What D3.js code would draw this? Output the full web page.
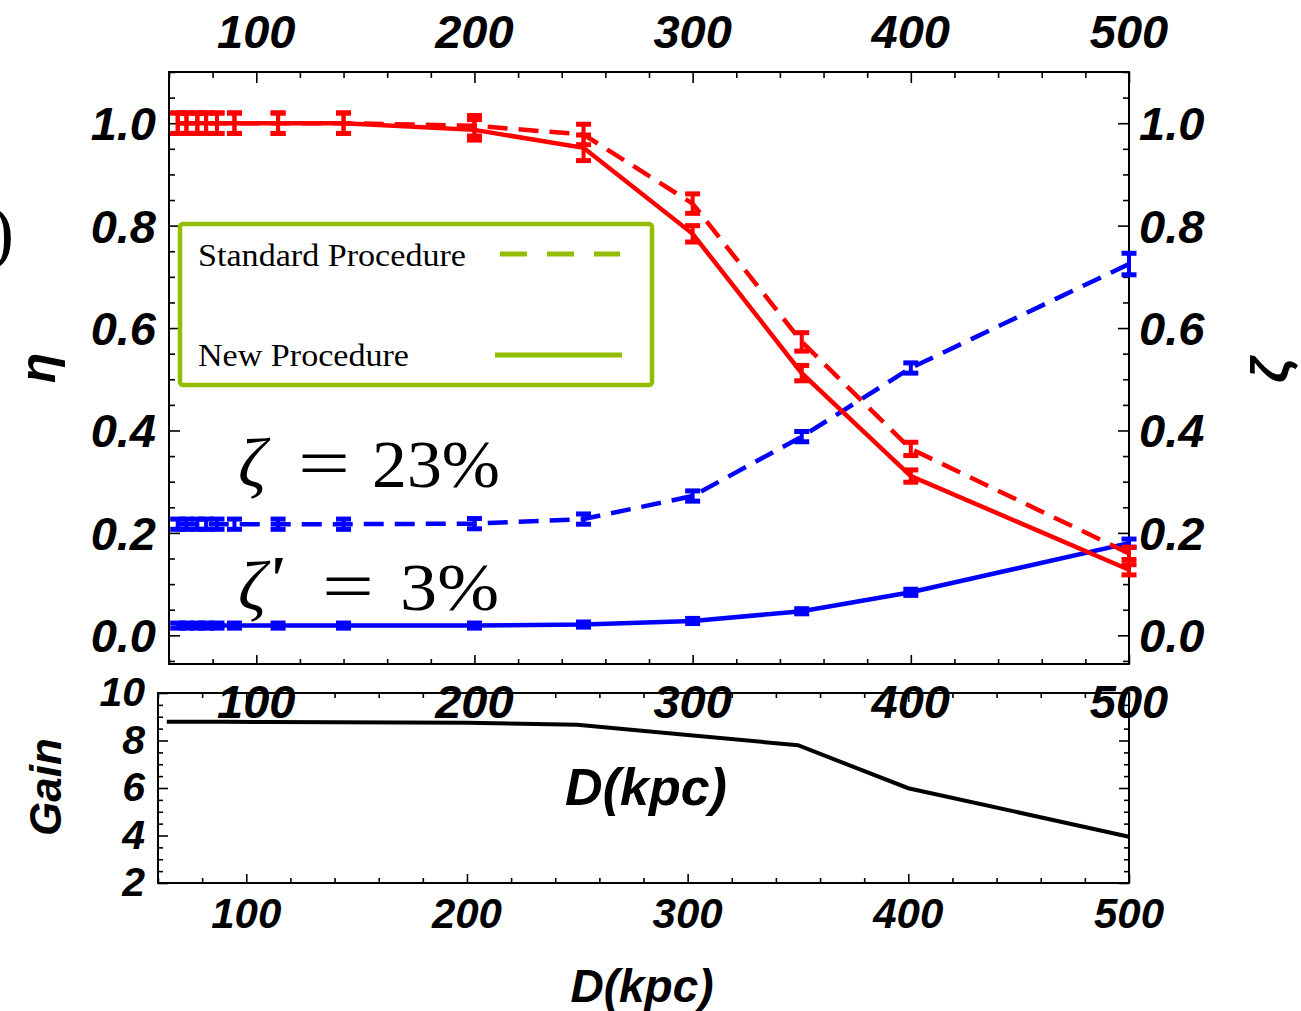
<!DOCTYPE html>
<html><head><meta charset="utf-8">
<script src="https://cdn.jsdelivr.net/npm/d3@7"></script>
<style>body{margin:0;background:#fff;} svg{display:block;}</style>
</head><body>
<svg id="c" width="1301" height="1011"></svg>
<script>
// ---- data ----
const dist      = [64, 68, 73, 77, 82, 90, 110, 140, 200, 250, 300, 350, 400, 500];
const etaStd    = [1, 1, 1, 1, 1, 1, 1, 1, 0.995, 0.978, 0.843, 0.573, 0.364, 0.16];
const etaStdErr = [0.02, 0.02, 0.02, 0.02, 0.02, 0.02, 0.02, 0.02, 0.02, 0.02, 0.019, 0.018, 0.013, 0.012];
const etaNew    = [1, 1, 1, 1, 1, 1, 1, 1, 0.987, 0.952, 0.784, 0.512, 0.311, 0.128];
const etaNewErr = [0.02, 0.02, 0.02, 0.02, 0.02, 0.02, 0.02, 0.02, 0.02, 0.025, 0.016, 0.015, 0.012, 0.01];
const zetaStd    = [0.217, 0.217, 0.217, 0.217, 0.217, 0.217, 0.217, 0.217, 0.218, 0.227, 0.272, 0.388, 0.522, 0.725];
const zetaStdErr = [0.01, 0.01, 0.01, 0.01, 0.01, 0.01, 0.01, 0.01, 0.01, 0.01, 0.01, 0.01, 0.01, 0.021];
const zetaNew    = [0.019, 0.019, 0.019, 0.019, 0.019, 0.019, 0.019, 0.019, 0.019, 0.021, 0.028, 0.047, 0.084, 0.18];
const zetaNewErr = [0.005, 0.005, 0.005, 0.005, 0.005, 0.005, 0.005, 0.005, 0.005, 0.005, 0.005, 0.005, 0.006, 0.008];
const gain       = [8.79, 8.79, 8.79, 8.79, 8.79, 8.79, 8.78, 8.77, 8.75, 8.66, 8.23, 7.8, 5.99, 3.95];
const xTicks = [100, 200, 300, 400, 500];
const yTicksTop = [0.0, 0.2, 0.4, 0.6, 0.8, 1.0];
const yTicksGain = [2, 4, 6, 8, 10];
const legendLabels = ["Standard Procedure", "New Procedure"];

const RED = "#ff0000", BLUE = "#0000ff", GREEN = "#93bd00";
const SANS = "'Liberation Sans', Arial, sans-serif";
const SERIF = "'Liberation Serif', 'Times New Roman', serif";

const svg = d3.select("#c");

// ---- scales ----
const xT = d3.scaleLinear().domain([60, 500]).range([169, 1129]);
const yT = d3.scaleLinear().domain([-0.056, 1.1]).range([664, 72]);
const xB = d3.scaleLinear().domain([60, 500]).range([158, 1129]);
const yB = d3.scaleLinear().domain([2, 10]).range([883, 693]);

function range(a, b, s){ const r=[]; for(let v=a; v<=b+1e-9; v+=s) r.push(+v.toFixed(4)); return r; }
const isMaj = (arr) => v => arr.some(t => Math.abs(t - v) < 1e-6);

function ticks(g, axisFn, scale, vals, len, tr){
  const a = axisFn(scale).tickValues(vals).tickSize(len).tickFormat("").tickSizeOuter(0);
  const gg = g.append("g").attr("transform", tr).call(a);
  gg.select(".domain").remove();
  gg.selectAll("line").attr("stroke", "#000").attr("stroke-width", 1.6);
}

// ---- top panel ----
const topG = svg.append("g");
const xMinorT = range(60, 500, 20).filter(v => !isMaj(xTicks)(v));
const yMinorT = range(-0.05, 1.1, 0.05).filter(v => !isMaj(yTicksTop)(v));
ticks(topG, d3.axisRight, yT, yTicksTop, 11, "translate(169,0)");
ticks(topG, d3.axisRight, yT, yMinorT, 6, "translate(169,0)");
ticks(topG, d3.axisLeft, yT, yTicksTop, 11, "translate(1129,0)");
ticks(topG, d3.axisLeft, yT, yMinorT, 6, "translate(1129,0)");
ticks(topG, d3.axisBottom, xT, xTicks, 11, "translate(0,72)");
ticks(topG, d3.axisBottom, xT, xMinorT, 6, "translate(0,72)");
ticks(topG, d3.axisTop, xT, xTicks, 9, "translate(0,664)");
ticks(topG, d3.axisTop, xT, xMinorT, 5, "translate(0,664)");
topG.append("rect").attr("x", 169).attr("y", 72).attr("width", 960).attr("height", 592)
  .attr("fill", "none").attr("stroke", "#000").attr("stroke-width", 2);

// series
function series(vals, errs, color, dashed){
  const pts = dist.map((d, i) => ({x: d, y: vals[i], e: errs[i]}));
  const line = d3.line().x(d => xT(d.x)).y(d => yT(d.y));
  topG.append("path").datum(pts).attr("d", line).attr("fill", "none")
    .attr("stroke", color).attr("stroke-width", 4.5)
    .attr("stroke-dasharray", dashed ? "20,11" : null);
  const eb = topG.append("g").attr("stroke", color).attr("stroke-width", 4);
  pts.forEach(p => {
    const cx = xT(p.x), y1 = yT(p.y + p.e), y2 = yT(p.y - p.e);
    eb.append("line").attr("x1", cx).attr("x2", cx).attr("y1", y1).attr("y2", y2);
    eb.append("line").attr("x1", cx - 7.5).attr("x2", cx + 7.5).attr("y1", y1).attr("y2", y1).attr("stroke-width", 5);
    eb.append("line").attr("x1", cx - 7.5).attr("x2", cx + 7.5).attr("y1", y2).attr("y2", y2).attr("stroke-width", 5);
  });
}
series(zetaStd, zetaStdErr, BLUE, true);
series(zetaNew, zetaNewErr, BLUE, false);
series(etaStd, etaStdErr, RED, true);
series(etaNew, etaNewErr, RED, false);

// tick labels top panel
const lab = svg.append("g").attr("font-family", SANS).attr("font-weight", "bold").attr("font-style", "italic").attr("fill", "#000");
lab.selectAll(".tl").data(xTicks).enter().append("text")
  .attr("x", d => xT(d)).attr("y", 48).attr("text-anchor", "middle").attr("font-size", 47).text(d => d);
lab.selectAll(".yl").data(yTicksTop).enter().append("text")
  .attr("x", 156).attr("y", d => yT(d) + 17).attr("text-anchor", "end").attr("font-size", 47).text(d => d.toFixed(1));
lab.selectAll(".yr").data(yTicksTop).enter().append("text")
  .attr("x", 1139).attr("y", d => yT(d) + 17).attr("text-anchor", "start").attr("font-size", 47).text(d => d.toFixed(1));

// legend
const lg = svg.append("g");
lg.append("rect").attr("x", 180).attr("y", 224).attr("width", 472).attr("height", 161).attr("rx", 3)
  .attr("fill", "#fff").attr("stroke", GREEN).attr("stroke-width", 4.5);
lg.append("text").attr("x", 198).attr("y", 266).attr("font-family", SERIF).attr("font-size", 31)
  .attr("textLength", 268).attr("lengthAdjust", "spacingAndGlyphs").text(legendLabels[0]);
lg.append("text").attr("x", 198).attr("y", 366).attr("font-family", SERIF).attr("font-size", 31)
  .attr("textLength", 211).attr("lengthAdjust", "spacingAndGlyphs").text(legendLabels[1]);
lg.append("line").attr("x1", 500).attr("x2", 620).attr("y1", 254).attr("y2", 254)
  .attr("stroke", GREEN).attr("stroke-width", 5).attr("stroke-dasharray", "27,20");
lg.append("line").attr("x1", 495).attr("x2", 622).attr("y1", 355).attr("y2", 355)
  .attr("stroke", GREEN).attr("stroke-width", 5);

// annotations
const an = svg.append("g").attr("font-family", SERIF).attr("fill", "#000");
an.append("text").attr("x", 238).attr("y", 487).attr("font-size", 70).attr("font-style", "italic").text("ζ");
an.append("text").attr("x", 298).attr("y", 487).attr("font-size", 70).attr("textLength", 52).attr("lengthAdjust", "spacingAndGlyphs").text("=");
an.append("text").attr("x", 372).attr("y", 487).attr("font-size", 68).attr("textLength", 128).attr("lengthAdjust", "spacingAndGlyphs").text("23%");
an.append("text").attr("x", 238).attr("y", 610).attr("font-size", 70).attr("font-style", "italic").text("ζ");
an.append("text").attr("x", 266).attr("y", 601).attr("font-size", 66).attr("font-style", "italic").attr("font-weight", "bold").text("'");
an.append("text").attr("x", 322).attr("y", 610).attr("font-size", 70).attr("textLength", 52).attr("lengthAdjust", "spacingAndGlyphs").text("=");
an.append("text").attr("x", 400).attr("y", 610).attr("font-size", 68).attr("textLength", 99).attr("lengthAdjust", "spacingAndGlyphs").text("3%");

// axis titles top panel
lab.append("text").attr("transform", "translate(55,368) rotate(-90)").attr("text-anchor", "middle").attr("font-size", 50).text("η");
lab.append("text").attr("transform", "translate(1288,370) rotate(-90)").attr("text-anchor", "middle").attr("font-size", 52).text("ζ");
svg.append("text").attr("x", -10).attr("y", 256).attr("font-family", SERIF).attr("font-size", 72).text(")");

// ---- bottom panel ----
const botG = svg.append("g");
const xMinorB = range(60, 500, 20).filter(v => !isMaj(xTicks)(v));
const yMinorB = range(2, 10, 0.5).filter(v => !isMaj(yTicksGain)(v));
ticks(botG, d3.axisRight, yB, yTicksGain, 10, "translate(158,0)");
ticks(botG, d3.axisRight, yB, yMinorB, 5, "translate(158,0)");
ticks(botG, d3.axisLeft, yB, yTicksGain, 10, "translate(1129,0)");
ticks(botG, d3.axisLeft, yB, yMinorB, 5, "translate(1129,0)");
ticks(botG, d3.axisBottom, xB, xTicks, 9, "translate(0,693)");
ticks(botG, d3.axisBottom, xB, xMinorB, 5, "translate(0,693)");
ticks(botG, d3.axisTop, xB, xTicks, 9, "translate(0,883)");
ticks(botG, d3.axisTop, xB, xMinorB, 5, "translate(0,883)");
botG.append("rect").attr("x", 158).attr("y", 693).attr("width", 971).attr("height", 190)
  .attr("fill", "none").attr("stroke", "#000").attr("stroke-width", 2);
botG.append("path").datum(dist.map((d, i) => [d, gain[i]]))
  .attr("d", d3.line().x(d => xB(d[0])).y(d => yB(d[1])))
  .attr("fill", "none").attr("stroke", "#000").attr("stroke-width", 4);

// top panel bottom-axis labels (overlapping bottom panel)
lab.selectAll(".tb").data(xTicks).enter().append("text")
  .attr("x", d => xT(d)).attr("y", 718).attr("text-anchor", "middle").attr("font-size", 47).text(d => d);
lab.append("text").attr("x", 646).attr("y", 805).attr("text-anchor", "middle").attr("font-size", 52).text("D(kpc)");

// bottom labels
lab.selectAll(".bx").data(xTicks).enter().append("text")
  .attr("x", d => xB(d)).attr("y", 928).attr("text-anchor", "middle").attr("font-size", 42).text(d => d);
lab.selectAll(".by").data(yTicksGain).enter().append("text")
  .attr("x", 145).attr("y", d => yB(d) + 13).attr("text-anchor", "end").attr("font-size", 41).text(d => d);
lab.append("text").attr("transform", "translate(61,787) rotate(-90)").attr("text-anchor", "middle").attr("font-size", 44).text("Gain");
lab.append("text").attr("x", 642).attr("y", 1002).attr("text-anchor", "middle").attr("font-size", 46).text("D(kpc)");
</script>
</body></html>
